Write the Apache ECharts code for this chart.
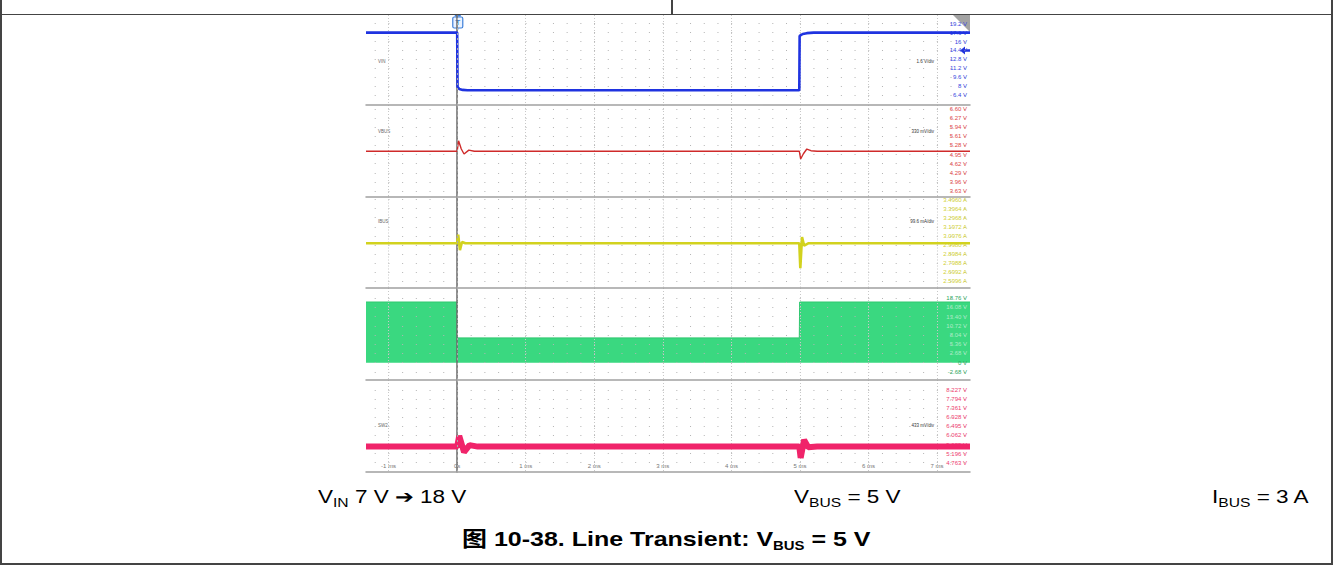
<!DOCTYPE html>
<html><head><meta charset="utf-8">
<script src="https://cdn.jsdelivr.net/npm/echarts@6/dist/echarts.min.js"></script>
<style>
html,body{margin:0;padding:0;background:#fff;}
#wrap{position:relative;width:1333px;height:565px;overflow:hidden;background:#fff;}
#chart{position:absolute;left:0;top:0;width:1333px;height:565px;}
.cap{position:absolute;font-family:'Liberation Sans',Arial,sans-serif;font-size:18px;color:#000;white-space:nowrap;line-height:20px;transform-origin:0 50%;}
.cap sub{font-size:12.5px;vertical-align:-4px;line-height:0;}
.title{font-weight:bold;font-size:21px;}
.fr{position:absolute;background:#444;}
</style></head>
<body>
<div id="wrap">
<div id="chart"></div>
<div class="fr" style="left:0;top:0;width:1.5px;height:565px"></div>
<div class="fr" style="left:1331px;top:0;width:1.5px;height:565px"></div>
<div class="fr" style="left:0;top:563px;width:1333px;height:1.5px"></div>
<div class="fr" style="left:0;top:13.5px;width:1333px;height:1.5px"></div>
<div class="fr" style="left:671px;top:0;width:1.5px;height:14px"></div>
<div class="cap" style="left:318px;top:487px;transform:scaleX(1.25)">V<sub>IN</sub> 7 V ➔ 18 V</div>
<div class="cap" style="left:794px;top:487px;transform:scaleX(1.25)">V<sub>BUS</sub> = 5 V</div>
<div class="cap" style="left:1212px;top:487px;transform:scaleX(1.25)">I<sub>BUS</sub> = 3 A</div>
<div class="cap title" id="ttl" style="left:462px;top:527px;transform:scaleX(1.19)"><span style="font-family:'Noto Sans CJK SC'">图</span> 10-38. Line Transient: V<sub>BUS</sub> = 5 V</div>
</div>
<script>
// ---- data ----
const timeTickLabels = ['-1 ms','0s','1 ms','2 ms','3 ms','4 ms','5 ms','6 ms','7 ms'];
const vinTickLabels  = ['6.4 V','8 V','9.6 V','11.2 V','12.8 V','14.4 V','16 V','17.6 V','19.2 V'];
const vbusTickLabels = ['3.63 V','3.96 V','4.29 V','4.62 V','4.95 V','5.28 V','5.61 V','5.94 V','6.27 V','6.60 V'];
const ibusTickLabels = ['2.5996 A','2.6992 A','2.7988 A','2.8984 A','2.9980 A','3.0976 A','3.1972 A','3.2968 A','3.3964 A','3.4960 A'];
const swTickLabels   = ['-2.68 V','0 V','2.68 V','5.36 V','8.04 V','10.72 V','13.40 V','16.08 V','18.76 V'];
const sw2TickLabels  = ['4.763 V','5.196 V','5.629 V','6.062 V','6.495 V','6.928 V','7.361 V','7.794 V','8.227 V'];

const channelNames = ['VIN','VBUS','IBUS','SW1','SW2'];
const scaleLabels  = ['1.6 V/div','330 mV/div','99.6 mA/div','2.68 V/div','433 mV/div'];

const vinTime = [-1.33, 0, 0.005, 0.03, 0.08, 0.15, 4.99, 4.995, 5.04, 5.1, 5.2, 7.48];
const vinVolt = [17.6, 17.6, 7.9, 7.5, 7.35, 7.3, 7.3, 17.0, 17.35, 17.5, 17.6, 17.6];

const vbusTime = [-1.33, 0, 0.02, 0.06, 0.1, 0.17, 0.25, 4.99, 5.01, 5.05, 5.1, 5.16, 5.25, 7.48];
const vbusVolt = [5.07, 5.07, 5.45, 5.15, 4.97, 5.11, 5.07, 5.07, 4.79, 4.98, 5.15, 5.09, 5.07, 5.07];

const ibusTime = [-1.33, 0, 0.015, 0.04, 0.07, 0.12, 4.99, 5.005, 5.03, 5.06, 5.12, 7.48];
const ibusAmp  = [3.015, 3.015, 3.11, 2.94, 3.03, 3.015, 3.015, 2.74, 3.085, 2.99, 3.015, 3.015];

const swTime = [-1.33, 0, 0.005, 4.99, 4.995, 7.48];
const swVolt = [17.6, 17.6, 7.2, 7.2, 17.6, 17.6];

const sw2Time = [-1.33, 0, 0.03, 0.1, 0.18, 0.3, 4.99, 5.01, 5.06, 5.12, 5.25, 7.48];
const sw2Volt = [5.53, 5.53, 6.04, 5.27, 5.6, 5.53, 5.53, 4.99, 5.85, 5.5, 5.53, 5.53];

// ---- chart ----
const zip = (a, b) => a.map((t, i) => [t, b[i]]);
const vals = arr => arr.map(s => parseFloat(s));
const fmtFrom = arr => { const v = vals(arr); return x => { let best = -1, d = 1e9; v.forEach((q, i) => { const e = Math.abs(q - x); if (e < d) { d = e; best = i; } }); return d < 1e-6 + Math.abs(x) * 1e-6 ? arr[best] : ''; }; };

const panels = [
  {top:15, height:90, min:4.65, max:20.75, ticks:vinTickLabels, col:'#1f33e0', lab:'#3546e0', data:zip(vinTime, vinVolt), w:2.6, ly:62},
  {top:105, height:91.5, min:3.43, max:6.745, ticks:vbusTickLabels, col:'#cf2a2a', lab:'#e04848', data:zip(vbusTime, vbusVolt), w:1.4, ly:131.5},
  {top:196.5, height:91.5, min:2.5224, max:3.531, ticks:ibusTickLabels, col:'#d2d21e', lab:'#cfcf35', data:zip(ibusTime, ibusAmp), w:2.6, ly:221.5},
  {top:288, height:92, min:-5.0, max:21.66, ticks:swTickLabels, col:'#2fc86f', lab:'#2ea85e', data:zip(swTime, swVolt), w:1, area:true, ly:334.5},
  {top:380, height:92, min:4.32, max:8.703, ticks:sw2TickLabels, col:'#f0246a', lab:'#ee3a6e', data:zip(sw2Time, sw2Volt), w:6, ly:425.5}
];
const timeVals = vals(timeTickLabels);
const timeFmt = fmtFrom(timeTickLabels);
const FONT = 'Liberation Sans';

const option = {
  animation:false,
  backgroundColor:'transparent',
  grid: panels.map(p => ({left:366, right:363, top:p.top, height:p.height, show:false})),
  xAxis: panels.map((p, i) => ({
    gridIndex:i, type:'value', min:-1.33, max:7.48, z:3,
    axisLine:{show:true, onZero:false, lineStyle:{color:'#a0a0a0', width:1.5}},
    axisTick:{show:false, customValues:timeVals},
    axisLabel:{show:i===4, customValues:timeVals, inside:true, margin:3, fontSize:6, color:'#777', fontFamily:FONT, formatter:timeFmt},
    splitLine:{show:true, lineStyle:{color:'#c8c8c8', type:[1,2], width:1}}
  })),
  yAxis: panels.map((p, i) => {
    const tv = vals(p.ticks);
    return {
      gridIndex:i, type:'value', position:'right', min:p.min, max:p.max, z:3,
      axisLine:{show:true, lineStyle:{color:'#6a6a6a', width:1.5}},
      axisTick:{show:false, customValues:tv},
      axisLabel:{customValues:tv, inside:true, margin:3, fontSize:6, fontFamily:FONT,
        color: p.area ? (v => (v > 0.5 && v < 17.5) ? '#a9efc6' : p.lab) : p.lab,
        formatter:fmtFrom(p.ticks)},
      splitLine:{show:true, lineStyle:{color:'#b4b4b4', type:[1,12.71], dashOffset:5, width:1}}
    };
  }),
  series: panels.map((p, i) => ({
    type:'line', xAxisIndex:i, yAxisIndex:i, data:p.data, showSymbol:false, z: p.area ? 2 : 4,
    lineStyle:{color:p.col, width:p.w},
    areaStyle: p.area ? {color:'#3ad880', opacity:1} : undefined,
    markLine:{symbol:'none', silent:true, label:{show:false}, animation:false,
      lineStyle:{color:'#a8a8a8', type:[2,3], width:1}, data:[{xAxis:0}]}
  }))
};

const chart = echarts.init(document.getElementById('chart'), null, {renderer:'svg'});
chart.setOption(option);

// overlays positioned through the axes
const g = [];
panels.forEach((p, i) => {
  g.push({type:'text', left:378, top:p.ly - 3, silent:true,
    style:{text:channelNames[i], fontSize:4.5, fill:'#666', fontFamily:FONT}});
  g.push({type:'text', right:1333 - 934, top:p.ly - 3, silent:true,
    style:{text:scaleLabels[i], fontSize:4.5, fill:'#333', fontFamily:FONT}});
});
const trig = chart.convertToPixel({xAxisIndex:0}, 0);
g.push({type:'group', left:trig - 5, top:15, children:[
  {type:'rect', shape:{x:2, y:0, width:6, height:1.5}, style:{fill:'#3d7fd9'}},
  {type:'rect', shape:{x:0, y:2, width:10, height:11, r:1.5}, style:{fill:'#eaf2ff', stroke:'#3d7fd9', lineWidth:1.2}},
  {type:'text', style:{x:5, y:7.5, text:'T', fontSize:8, fontWeight:'bold', fill:'#3d7fd9', align:'center', verticalAlign:'middle', fontFamily:FONT}},
  {type:'rect', shape:{x:4.5, y:13, width:1, height:2}, style:{fill:'#3d7fd9'}}
]});
g.push({type:'polygon', shape:{points:[[953,15],[970,15],[970,32]]}, style:{fill:'#a3a3a3'}, silent:true});
const off = chart.convertToPixel({yAxisIndex:0}, 14.4);
g.push({type:'polygon', shape:{points:[[960,off],[965,off-4],[965,off-1.2],[970,off-1.2],[970,off+1.2],[965,off+1.2],[965,off+4]]}, style:{fill:'#2233dd'}, silent:true});
chart.setOption({graphic:g});

// centre the title on the page
const t = document.getElementById('ttl');
t.style.left = (666 - t.offsetWidth * 1.19 / 2) + 'px';
</script>
</body></html>
